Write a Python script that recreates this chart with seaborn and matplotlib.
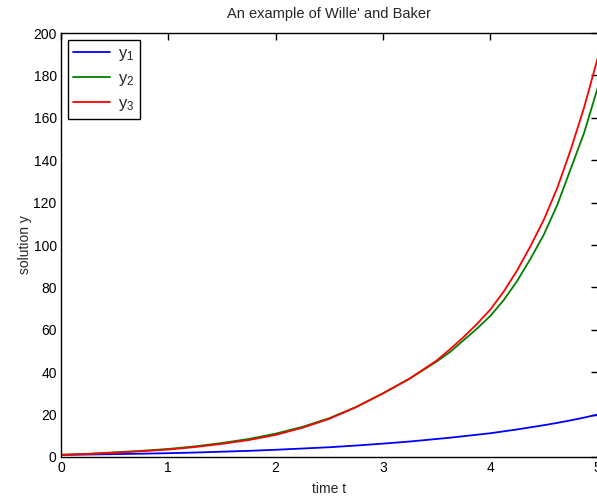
import numpy as np
import pandas as pd
import matplotlib
matplotlib.use('Agg')
import matplotlib.pyplot as plt
import seaborn as sns

# values (finer steps where the curves are steep)
t = [0, 0.25, 0.5, 0.75, 1, 1.25, 1.5, 1.75, 2, 2.25, 2.5, 2.75, 3, 3.25, 3.5,
     3.625, 3.75, 3.875, 4, 4.125, 4.25, 4.375, 4.5, 4.625, 4.75, 4.875, 5]
y1 = [1.0, 1.15, 1.35, 1.55, 1.8, 2.1, 2.5, 2.9, 3.4, 4.0, 4.6, 5.4, 6.3, 7.3, 8.5,
      9.1, 9.8, 10.5, 11.2, 12.1, 13.0, 14.0, 15.0, 16.1, 17.3, 18.6, 20.0]
y2 = [1.0, 1.5, 2.2, 2.9, 3.8, 5.0, 6.6, 8.5, 11.0, 14.2, 18.3, 23.6, 30.0, 37.0, 45.0,
      49.5, 55.0, 60.5, 66.5, 74.0, 83.0, 93.5, 105.0, 119.0, 136.0, 153.0, 174.0]
y3 = [1.0, 1.4, 2.0, 2.7, 3.5, 4.7, 6.2, 8.0, 10.4, 13.8, 18.0, 23.5, 30.0, 37.0, 45.5,
      50.8, 56.5, 62.7, 69.5, 78.0, 88.0, 99.5, 112.0, 127.0, 145.0, 165.0, 188.0]
series_names = ['y$_1$', 'y$_2$', 'y$_3$']
x_ticks = [0, 1, 2, 3, 4, 5]
y_ticks = list(range(0, 201, 20))

df = pd.DataFrame({
    't': t * 3,
    'y': y1 + y2 + y3,
    'series': [series_names[0]] * len(t) + [series_names[1]] * len(t) + [series_names[2]] * len(t),
})

sns.set_style('white')
plt.rcParams['font.family'] = ['Liberation Sans', 'DejaVu Sans']
plt.rcParams['mathtext.fontset'] = 'custom'
plt.rcParams['mathtext.rm'] = 'Liberation Sans'
plt.rcParams['mathtext.it'] = 'Liberation Sans'

fig = plt.figure(figsize=(5.97, 4.97), dpi=100)
ax = fig.add_axes([0.102, 0.0805, 0.899, 0.853])

sns.lineplot(data=df, x='t', y='y', hue='series', palette=['#0000ff', '#008000', '#ff0000'],
             linewidth=1.3, ax=ax)

ax.set_xlim(0, 5)
ax.set_ylim(0, 200)
ax.set_xticks(x_ticks)
ax.set_yticks(y_ticks)
ax.tick_params(direction='in', length=5, width=1, top=True, right=True,
               labelsize=10, colors='black', pad=3)
for s in ax.spines.values():
    s.set_visible(True)
    s.set_color('black')
    s.set_linewidth(1)

ax.set_title("An example of Wille' and Baker", fontsize=10.5, pad=11)
ax.set_xlabel('time t', fontsize=10, labelpad=5)
ax.set_ylabel('solution y', fontsize=10, labelpad=1)

leg = ax.legend(loc='upper left', fontsize=12, frameon=True, fancybox=False,
                borderaxespad=0.4, handlelength=2.2, labelspacing=0.5,
                borderpad=0.35, handletextpad=0.45)
leg.get_frame().set_edgecolor('black')
leg.get_frame().set_linewidth(1)
leg.get_frame().set_alpha(1)
for line in leg.get_lines():
    line.set_linewidth(1.3)

fig.savefig('out.png', dpi=100)
